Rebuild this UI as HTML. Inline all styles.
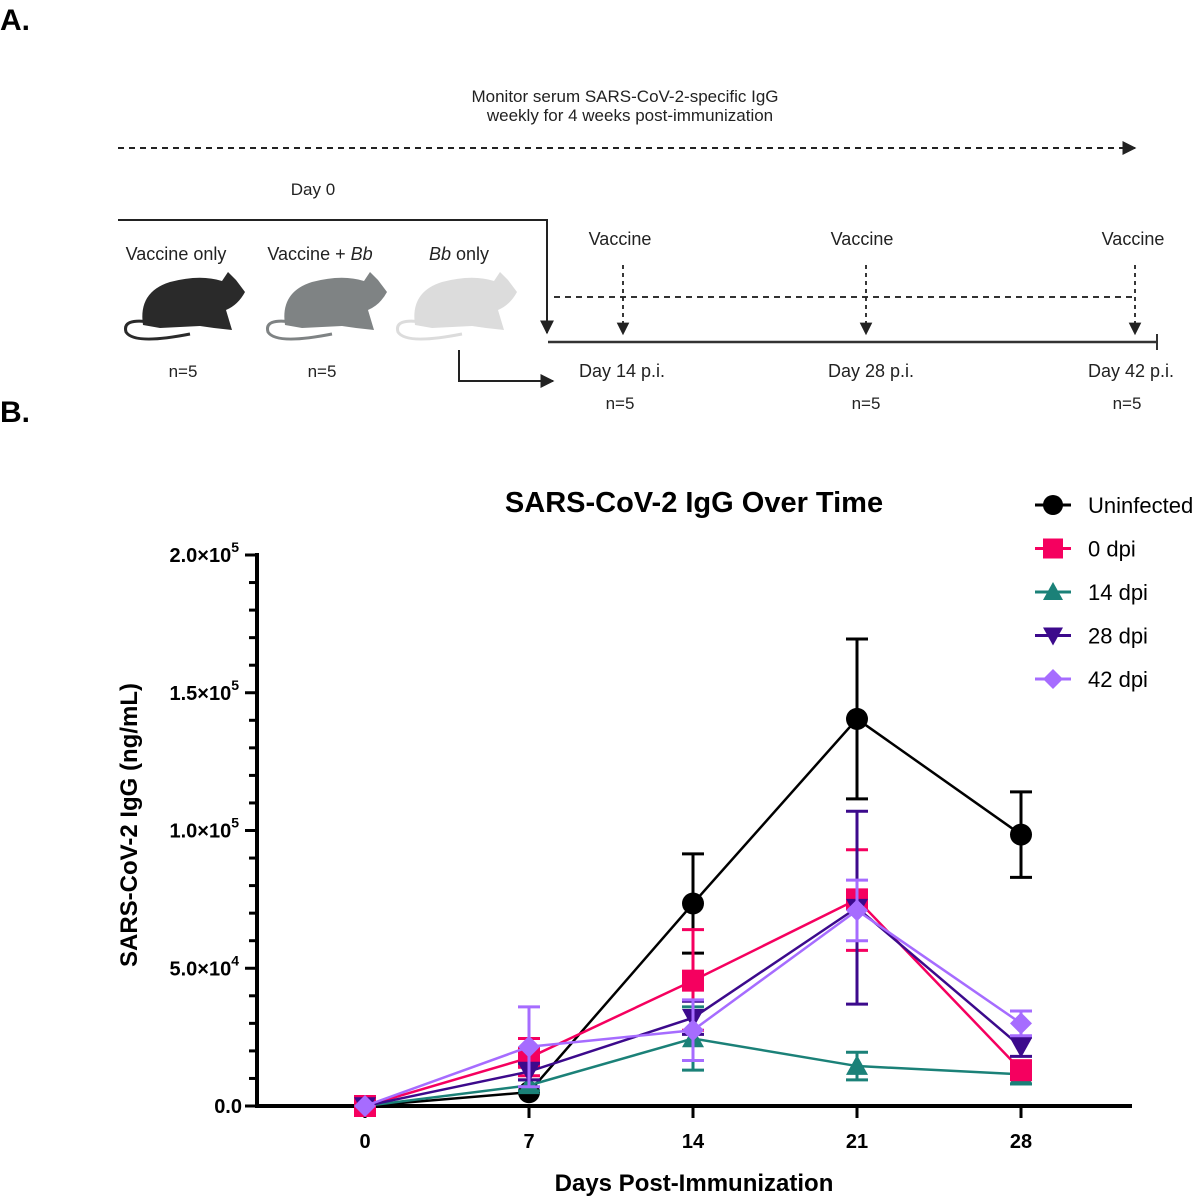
<!DOCTYPE html>
<html><head><meta charset="utf-8"><style>
body{margin:0;background:#fff;}
svg{display:block;font-family:"Liberation Sans",Arial,sans-serif;}
</style></head><body>
<svg id="fig" width="1200" height="1199" viewBox="0 0 1200 1199">
<defs>
<marker id="ah" viewBox="0 0 10 10" refX="9" refY="5" markerWidth="7" markerHeight="7" orient="auto"><path d="M0,0 L10,5 L0,10 z" fill="#222"/></marker>
</defs>
<g>
<text x="0" y="30" font-size="30" font-weight="bold">A.</text>
<text x="625" y="102" font-size="17" text-anchor="middle" fill="#222">Monitor serum SARS-CoV-2-specific IgG</text>
<text x="630" y="121" font-size="17" text-anchor="middle" fill="#222">weekly for 4 weeks post-immunization</text>
<line x1="118" y1="148" x2="1135" y2="148" stroke="#222" stroke-width="2" stroke-dasharray="6,5" marker-end="url(#ah)"/>
<text x="313" y="195" font-size="17" text-anchor="middle" fill="#222">Day 0</text>
<polyline points="118,220 547,220 547,333" fill="none" stroke="#222" stroke-width="2" marker-end="url(#ah)"/>
<text x="176" y="260" font-size="18" text-anchor="middle" fill="#222">Vaccine only</text>
<text x="320" y="260" font-size="18" text-anchor="middle" fill="#222">Vaccine + <tspan font-style="italic">Bb</tspan></text>
<text x="459" y="260" font-size="18" text-anchor="middle" fill="#222"><tspan font-style="italic">Bb</tspan> only</text>
<g fill="#2a2a2a" stroke="#2a2a2a">
<path d="M143,325 Q138,292 170,282 Q200,274 222,281 L228,272 L236,280 L245,292 Q238,305 226,310 L232,330 L214,328 L200,326 L160,328 Z" stroke="none"/>
<path d="M150,322 Q122,318 126,332 Q134,345 190,334" fill="none" stroke-width="3"/>
</g>
<g fill="#7f8384" stroke="#7f8384">
<path d="M285,325 Q280,292 312,282 Q342,274 364,281 L370,272 L378,280 L387,292 Q380,305 368,310 L374,330 L356,328 L342,326 L302,328 Z" stroke="none"/>
<path d="M292,322 Q264,318 268,332 Q276,345 332,334" fill="none" stroke-width="3"/>
</g>
<g fill="#dcdcdc" stroke="#dcdcdc">
<path d="M415,325 Q410,292 442,282 Q472,274 494,281 L500,272 L508,280 L517,292 Q510,305 498,310 L504,330 L486,328 L472,326 L432,328 Z" stroke="none"/>
<path d="M422,322 Q394,318 398,332 Q406,345 462,334" fill="none" stroke-width="3"/>
</g>
<text x="183" y="377" font-size="17" text-anchor="middle" fill="#222">n=5</text>
<text x="322" y="377" font-size="17" text-anchor="middle" fill="#222">n=5</text>
<polyline points="459,350 459,381 553,381" fill="none" stroke="#222" stroke-width="2" marker-end="url(#ah)"/>
<line x1="548" y1="342" x2="1157" y2="342" stroke="#333" stroke-width="2.5"/>
<line x1="1157" y1="334" x2="1157" y2="350" stroke="#333" stroke-width="2"/>
<line x1="554" y1="297" x2="1135" y2="297" stroke="#333" stroke-width="2" stroke-dasharray="6,5"/>
<g font-size="18" fill="#222" text-anchor="middle">
<text x="620" y="245">Vaccine</text>
<text x="862" y="245">Vaccine</text>
<text x="1133" y="245">Vaccine</text>
<text x="622" y="377">Day 14 p.i.</text>
<text x="871" y="377">Day 28 p.i.</text>
<text x="1131" y="377">Day 42 p.i.</text>
<text x="620" y="409" font-size="17">n=5</text>
<text x="866" y="409" font-size="17">n=5</text>
<text x="1127" y="409" font-size="17">n=5</text>
</g>
<g stroke="#222" stroke-width="1.8" stroke-dasharray="4,4">
<line x1="623" y1="265" x2="623" y2="334" marker-end="url(#ah)"/>
<line x1="866" y1="265" x2="866" y2="334" marker-end="url(#ah)"/>
<line x1="1135" y1="265" x2="1135" y2="334" marker-end="url(#ah)"/>
</g>
</g>
<text x="0" y="422" font-size="30" font-weight="bold">B.</text>
<text x="694" y="512" font-size="29" font-weight="bold" text-anchor="middle">SARS-CoV-2 IgG Over Time</text>
<text x="694" y="1191" font-size="24" font-weight="bold" text-anchor="middle">Days Post-Immunization</text>
<text transform="translate(137,825) rotate(-90)" font-size="24" font-weight="bold" text-anchor="middle">SARS-CoV-2 IgG (ng/mL)</text>
<g id="axes"></g>
<g id="series"></g>
<g id="legend"></g>
</svg>
<script>
const days = [0, 7, 14, 21, 28];
const yTicks = [0, 50000, 100000, 150000, 200000];
const yTickLabels = ["0.0", "5.0×10", "1.0×10", "1.5×10", "2.0×10"];
const yTickExp = ["", "4", "5", "5", "5"];
const seriesNames = ["Uninfected", "0 dpi", "14 dpi", "28 dpi", "42 dpi"];
const seriesColors = ["#000000", "#f5005f", "#1b8178", "#3c0a8c", "#a66cff"];
const seriesShapes = ["circle", "square", "triangle", "invtriangle", "diamond"];
const uninfected = [0, 5000, 73500, 140500, 98500];
const uninfectedHi = [0, 5000, 91500, 169500, 114000];
const uninfectedLo = [0, 5000, 55500, 111500, 83000];
const dpi0 = [0, 17500, 45500, 75000, 13000];
const dpi0Hi = [0, 24500, 64000, 93000, 16000];
const dpi0Lo = [0, 11000, 27500, 56500, 10000];
const dpi14 = [0, 7500, 24500, 14500, 11500];
const dpi14Hi = [0, 9500, 36000, 19500, 15000];
const dpi14Lo = [0, 5500, 13000, 9500, 8000];
const dpi28 = [0, 12500, 32000, 72000, 21500];
const dpi28Hi = [0, 15500, 38000, 107000, 25000];
const dpi28Lo = [0, 9500, 26000, 37000, 18000];
const dpi42 = [0, 21500, 27500, 71000, 30000];
const dpi42Hi = [0, 36000, 38500, 82000, 34500];
const dpi42Lo = [0, 7000, 16500, 60000, 25500];
const values = [uninfected, dpi0, dpi14, dpi28, dpi42];
const highs = [uninfectedHi, dpi0Hi, dpi14Hi, dpi28Hi, dpi42Hi];
const lows = [uninfectedLo, dpi0Lo, dpi14Lo, dpi28Lo, dpi42Lo];

const NS = "http://www.w3.org/2000/svg";
const X0 = 257, X1 = 1132, Y0 = 1106, Y1 = 555;
function xs(d){ return 365 + d * (164/7); }
function ys(v){ return Y0 - (v / 200000) * (Y0 - Y1); }
function mk(tag, attrs, parent){
  const e = document.createElementNS(NS, tag);
  for (const k in attrs) e.setAttribute(k, attrs[k]);
  parent.appendChild(e);
  return e;
}
const axes = document.getElementById("axes");
const ax = mk("line", {x1: X0, y1: Y1 - 2, x2: X0, y2: Y0 + 2, stroke: "#000", "stroke-width": 4}, axes);


const bx = mk("line", {x1: X0 - 2, y1: Y0, x2: X1, y2: Y0, stroke: "#000", "stroke-width": 4}, axes);


for (let v = 0; v <= 200000; v += 10000) {
  const major = v % 50000 === 0;
  const t = mk("line", {x1: X0 - (major ? 12 : 8), y1: ys(v), x2: X0, y2: ys(v), stroke: "#000", "stroke-width": 3}, axes);
  
  
}
yTicks.forEach((v, i) => {
  const t = mk("text", {x: yTickExp[i] ? 239 : 242, y: ys(v) + 7, "font-size": 20, "font-weight": "bold", "text-anchor": "end"}, axes);
  
  
  t.textContent = yTickLabels[i];
  if (yTickExp[i]) {
    const s = mk("tspan", {dy: -10, "font-size": 14}, t);
    s.textContent = yTickExp[i];
  }
});
days.forEach(d => {
  const t = mk("line", {x1: xs(d), y1: Y0, x2: xs(d), y2: Y0 + 12, stroke: "#000", "stroke-width": 3}, axes);
  
  
  const l = mk("text", {x: xs(d), y: Y0 + 42, "font-size": 20, "font-weight": "bold", "text-anchor": "middle"}, axes);
  
  
  l.textContent = d;
});
function marker(shape, cx, cy, color, parent, s){
  s = s || 11;
  let e;
  if (shape === "circle") e = mk("circle", {cx: cx, cy: cy, r: s, fill: color}, parent);
  else if (shape === "square") e = mk("rect", {x: cx - s, y: cy - s, width: 2*s, height: 2*s, fill: color}, parent);
  else if (shape === "triangle") e = mk("polygon", {points: `${cx},${cy-s} ${cx+s},${cy+s*0.8} ${cx-s},${cy+s*0.8}`, fill: color}, parent);
  else if (shape === "invtriangle") e = mk("polygon", {points: `${cx},${cy+s} ${cx+s},${cy-s*0.8} ${cx-s},${cy-s*0.8}`, fill: color}, parent);
  else e = mk("polygon", {points: `${cx},${cy-s} ${cx+s},${cy} ${cx},${cy+s} ${cx-s},${cy}`, fill: color}, parent);
  return e;
}
const series = document.getElementById("series");
const order = [0, 2, 1, 3, 4];
order.forEach(i => {
  const g = mk("g", {}, series);
  
  
  const c = seriesColors[i];
  days.forEach((d, j) => {
    if (highs[i][j] === lows[i][j]) return;
    const x = xs(d);
    const eb = mk("path", {d: `M${x},${ys(highs[i][j])} V${ys(lows[i][j])} M${x-11},${ys(highs[i][j])} h22 M${x-11},${ys(lows[i][j])} h22`, stroke: c, "stroke-width": 3, fill: "none"}, g);
    
    
  });
  const pl = mk("polyline", {points: days.map((d, j) => xs(d) + "," + ys(values[i][j])).join(" "), fill: "none", stroke: c, "stroke-width": 2.5}, g);
  
  
  days.forEach((d, j) => {
    const m = marker(seriesShapes[i], xs(d), ys(values[i][j]), c, g);
    
    
  });
});
const legend = document.getElementById("legend");
seriesNames.forEach((n, i) => {
  const y = 505 + i * 43.5;
  const g = mk("g", {}, legend);
  
  
  mk("line", {x1: 1035, y1: y, x2: 1071, y2: y, stroke: seriesColors[i], "stroke-width": 3}, g);
  marker(seriesShapes[i], 1053, y, seriesColors[i], g, 10);
  const t = mk("text", {x: 1088, y: y + 8, "font-size": 22}, g);
  t.textContent = n;
});
</script>
</body></html>
